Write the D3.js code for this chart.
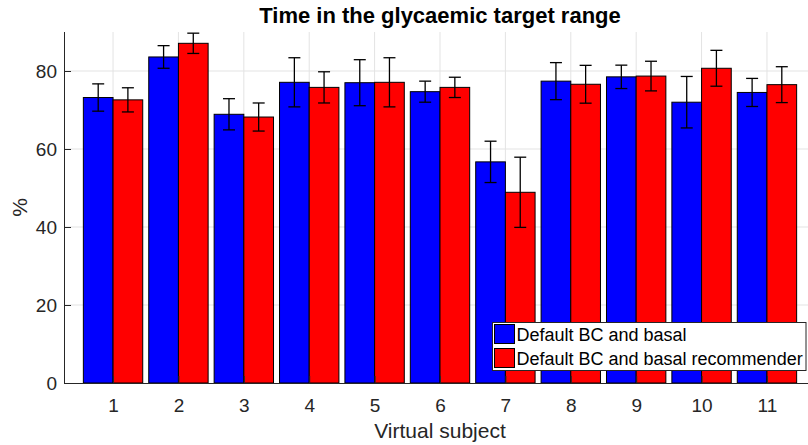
<!DOCTYPE html>
<html><head><meta charset="utf-8">
<script src="https://cdn.jsdelivr.net/npm/d3@7"></script>
<style>body{margin:0;background:#fff}svg{display:block;font-family:"Liberation Sans",Arial,Helvetica,sans-serif}</style>
</head><body>
<svg id="c" width="808" height="445"></svg>
<script>
const subjects = [1,2,3,4,5,6,7,8,9,10,11];
const seriesNames = ["Default BC and basal", "Default BC and basal recommender"];
const blueMean = [73.2, 83.6, 68.9, 77.1, 77.0, 74.7, 56.7, 77.4, 78.5, 72.0, 74.5];
const blueErr  = [3.5, 2.9, 4.0, 6.3, 5.9, 2.7, 5.3, 4.75, 3.0, 6.6, 3.6];
const redMean  = [72.6, 87.1, 68.2, 75.8, 77.1, 75.8, 48.9, 76.6, 78.7, 80.7, 76.5];
const redErr   = [3.1, 2.6, 3.6, 4.0, 6.3, 2.6, 9.0, 4.85, 3.8, 4.6, 4.6];
const yTicks = [0, 20, 40, 60, 80];
const colors = ["#0000ff", "#ff0000"];

const svg = d3.select("#c");
const x = d3.scaleLinear().domain([0.25, 11.75]).range([64, 816]);
const y = d3.scaleLinear().domain([0, 90]).range([383, 32]);
const axisCol = "#262626";
const barW = 0.454, off = [-0.227, 0.227];

// grid
const g = svg.append("g");
g.selectAll("line.gy").data(yTicks.slice(1)).join("line")
  .attr("x1", x.range()[0]).attr("x2", x.range()[1])
  .attr("y1", d => y(d)).attr("y2", d => y(d))
  .attr("stroke", "#e3e3e3").attr("stroke-width", 1);
g.selectAll("line.gx").data(subjects).join("line")
  .attr("x1", d => x(d)).attr("x2", d => x(d))
  .attr("y1", y(90)).attr("y2", y(0))
  .attr("stroke", "#e3e3e3").attr("stroke-width", 1);

const series = [
  {mean: blueMean, err: blueErr},
  {mean: redMean, err: redErr}
];

series.forEach((s, si) => {
  const data = subjects.map((sub, i) => ({sub, m: s.mean[i], e: s.err[i]}));
  svg.append("g").selectAll("rect").data(data).join("rect")
    .attr("x", d => x(d.sub + off[si] - barW/2))
    .attr("width", d => x(d.sub + off[si] + barW/2) - x(d.sub + off[si] - barW/2))
    .attr("y", d => y(d.m))
    .attr("height", d => y(0) - y(d.m))
    .attr("fill", colors[si]).attr("stroke", "#000").attr("stroke-width", 1);
});

series.forEach((s, si) => {
  const data = subjects.map((sub, i) => ({sub, m: s.mean[i], e: s.err[i]}));
  const eg = svg.append("g").attr("stroke", "#000").attr("stroke-width", 1.3);
  eg.selectAll("line.v").data(data).join("line")
    .attr("x1", d => x(d.sub + off[si])).attr("x2", d => x(d.sub + off[si]))
    .attr("y1", d => y(d.m + d.e)).attr("y2", d => y(d.m - d.e));
  ["+", "-"].forEach(sign => {
    eg.selectAll("line.c" + (sign === "+" ? "t" : "b")).data(data).join("line")
      .attr("x1", d => x(d.sub + off[si]) - 6).attr("x2", d => x(d.sub + off[si]) + 6)
      .attr("y1", d => y(sign === "+" ? d.m + d.e : d.m - d.e))
      .attr("y2", d => y(sign === "+" ? d.m + d.e : d.m - d.e));
  });
});

// axes
const xAxis = svg.append("g").attr("transform", `translate(0,${y(0)})`)
  .call(d3.axisBottom(x).tickValues(subjects).tickSizeInner(-7).tickSizeOuter(0).tickPadding(16).tickFormat(d3.format("d")));
const yAxis = svg.append("g").attr("transform", `translate(${x.range()[0]},0)`)
  .call(d3.axisLeft(y).tickValues(yTicks).tickSizeInner(-7).tickSizeOuter(0).tickPadding(7));
[xAxis, yAxis].forEach(a => {
  a.select(".domain").attr("stroke", axisCol).attr("stroke-width", 1);
  a.selectAll(".tick line").attr("stroke", axisCol);
  a.selectAll(".tick text").attr("fill", axisCol).attr("font-size", 19).attr("font-family", "Liberation Sans, Arial, sans-serif");
});
yAxis.select(".domain").attr("d", `M0.5,${y(90)}V${y(0)}`);
xAxis.selectAll(".tick text").attr("dy", "0.71em");

// labels
svg.append("text").attr("x", 440).attr("y", 22.5).attr("text-anchor", "middle")
  .attr("font-size", 22).attr("font-weight", "bold").attr("fill", "#000")
  .text("Time in the glycaemic target range");
svg.append("text").attr("x", 440).attr("y", 438).attr("text-anchor", "middle")
  .attr("font-size", 21).attr("fill", axisCol).text("Virtual subject");
svg.append("text").attr("transform", `translate(27,${(y(0)+y(90))/2}) rotate(-90)`)
  .attr("text-anchor", "middle").attr("font-size", 21).attr("fill", axisCol).text("%");

// legend
const lg = svg.append("g").attr("transform", "translate(492.5,322.5)");
lg.append("rect").attr("width", 313.5).attr("height", 48).attr("fill", "#fff").attr("stroke", axisCol).attr("stroke-width", 1);
seriesNames.forEach((n, i) => {
  const yy = 2 + i * 24;
  lg.append("rect").attr("x", 2).attr("y", yy).attr("width", 20).attr("height", 19)
    .attr("fill", colors[i]).attr("stroke", "#000");
  lg.append("text").attr("x", 24).attr("y", yy + 16).attr("font-size", 18).attr("fill", "#000").text(n);
});
</script>
</body></html>
